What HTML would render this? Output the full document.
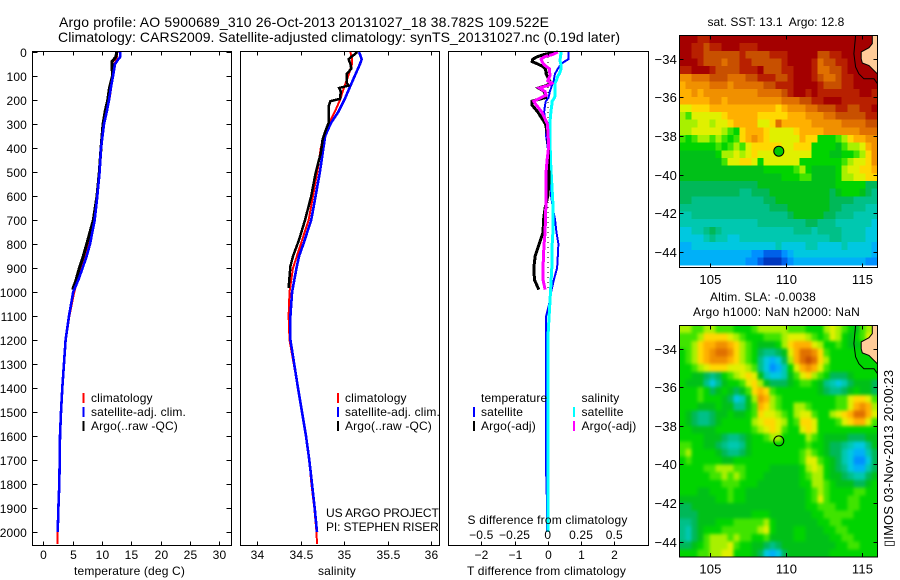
<!DOCTYPE html>
<html>
<head>
<meta charset="utf-8">
<title>Argo profile</title>
<style>
html,body{margin:0;padding:0;background:#fff;}
svg{display:block;}
text{font-family:"Liberation Sans",sans-serif;font-size:12px;fill:#000;letter-spacing:.15px;white-space:pre;}
.t14{font-size:14px;letter-spacing:0;}
</style>
</head>
<body>
<svg id="fig" xmlns="http://www.w3.org/2000/svg" width="900" height="580" viewBox="0 0 900 580">
<defs>
<filter id="smooth" x="-5%" y="-5%" width="110%" height="110%" color-interpolation-filters="sRGB">
<feGaussianBlur stdDeviation="1.7"/>
<feComponentTransfer><feFuncA type="linear" slope="50"/></feComponentTransfer>
</filter>
<clipPath id="sla-clip"><rect x="679.5" y="325.5" width="198" height="231.5"/></clipPath>
</defs>
<rect x="0" y="0" width="900" height="580" fill="#fff"/>
<text class="t14" x="59" y="27" textLength="490">Argo profile: AO 5900689_310 26-Oct-2013 20131027_18 38.782S 109.522E</text>
<text class="t14" x="58" y="42" textLength="562">Climatology: CARS2009. Satellite-adjusted climatology: synTS_20131027.nc (0.19d later)</text>
<g id="plots"></g>

<g>
<rect x="82.5" y="393" width="2" height="10" fill="#f00"/>
<rect x="82.5" y="407" width="2" height="10" fill="#00f"/>
<rect x="82.5" y="421" width="2" height="10" fill="#000"/>
<text x="91" y="402">climatology</text>
<text x="91" y="416">satellite-adj. clim.</text>
<text x="91" y="430">Argo(..raw -QC)</text>
</g>
<g>
<rect x="337" y="393" width="2" height="10" fill="#f00"/>
<rect x="337" y="407" width="2" height="10" fill="#00f"/>
<rect x="337" y="421" width="2" height="10" fill="#000"/>
<text x="345" y="402">climatology</text>
<text x="345" y="416">satellite-adj. clim.</text>
<text x="345" y="430">Argo(..raw -QC)</text>
<text x="326" y="517" textLength="113">US ARGO PROJECT</text>
<text x="326" y="531" textLength="113">PI: STEPHEN RISER</text>
</g>
<g>
<text x="481" y="402">temperature</text>
<text x="581.5" y="402">salinity</text>
<rect x="473" y="407" width="2" height="10" fill="#00f"/>
<rect x="473" y="421" width="2" height="10" fill="#000"/>
<rect x="573" y="407" width="2" height="10" fill="#0ff"/>
<rect x="573" y="421" width="2" height="10" fill="#f0f"/>
<text x="481" y="416">satellite</text>
<text x="481" y="430">Argo(-adj)</text>
<text x="581.5" y="416">satellite</text>
<text x="581.5" y="430">Argo(-adj)</text>
<text x="467.5" y="524" textLength="160">S difference from climatology</text>
</g>

<text x="74" y="575" textLength="111">temperature (deg C)</text>
<text x="318" y="575">salinity</text>
<text x="467" y="575" textLength="159">T difference from climatology</text>

<text x="707.5" y="26" textLength="137">sat. SST: 13.1  Argo: 12.8</text>
<text x="710" y="301" textLength="106">Altim. SLA: -0.0038</text>
<text x="693" y="316" textLength="167">Argo h1000: NaN h2000: NaN</text>
<text transform="translate(893,547) rotate(-90)" x="0" y="0" style="font-size:13px">▯IMOS 03-Nov-2013 20:00:23</text>
</svg>

<script>
// ---------- profile data: depth (m) and values ----------
const depthTicks = [0,100,200,300,400,500,600,700,800,900,1000,1100,1200,1300,1400,1500,1600,1700,1800,1900,2000];
const tempTicks = [0,5,10,15,20,25,30];
const salTicks = [34,34.5,35,35.5,36];
const salTickLabels = ['34','34.5','35','35.5','36'];
const tDiffTicks = [-2,-1,0,1,2];
const tDiffTickLabels = ['−2','−1','0','1','2'];
const sDiffTicks = [-0.5,-0.25,0,0.25,0.5];
const sDiffTickLabels = ['−0.5','−0.25','0','0.25','0.5'];

const tempClimDepth = [0,30,50,100,200,250,300,400,500,600,700,800,900,1000,1100,1200,1400,1500,1600,1700,1800,1900,2000,2050];
const tempClim = [12.62,12.5,12.11,11.88,11.26,10.8,10.35,9.78,9.55,9.21,8.64,7.68,6.43,5.29,4.45,3.85,3.24,3.02,2.85,2.8,2.73,2.57,2.45,2.45];
const tempSatDepth = [0,20,30,50,100,150,200,250,300,400,500,600,700,800,850,900,950,1000,1100,1200,1400,1500,1600,1700,1800,1900,2000];
const tempSat = [13.07,13.13,12.8,12.22,11.88,11.5,11.2,10.8,10.35,9.83,9.6,9.2,8.76,7.96,7.4,6.7,5.97,5.1,4.38,3.8,3.24,3.02,2.85,2.8,2.73,2.57,2.45];
const tempArgoDepth = [0,20,40,100,150,200,250,300,400,500,600,700,800,850,900,950,990];
const tempArgo = [12.5,12.39,11.71,11.77,11.26,10.97,10.52,10.18,9.84,9.55,9.15,8.53,7.39,6.82,6.14,5.57,5.0];

const salClimDepth = [0,30,50,100,150,200,250,300,350,400,500,600,700,800,900,1000,1100,1200,1400,1500,1600,1700,1800,1900,2000,2050];
const salClim = [35.07,35.09,35.09,35.045,34.995,34.95,34.89,34.82,34.76,34.73,34.69,34.64,34.59,34.5,34.41,34.37,34.36,34.37,34.468,34.514,34.56,34.598,34.622,34.655,34.68,34.686];
const salSatDepth = [0,20,30,50,100,150,200,250,300,350,400,500,600,700,800,850,900,1000,1100,1200,1400,1500,1600,1700,1800,1900,2000];
const salSat = [35.17,35.19,35.2,35.18,35.12,35.06,35.0,34.93,34.84,34.78,34.76,34.72,34.67,34.62,34.53,34.48,34.45,34.4,34.38,34.38,34.468,34.514,34.56,34.598,34.629,34.66,34.686];
const salArgoDepth = [0,10,20,30,50,70,90,120,130,140,150,165,195,205,226,296,323,365,421,504,601,699,782,851,893,983];
const salArgo = [35.15,35.12,35.08,35.05,35.07,35.08,35.03,35.03,35.03,35.05,34.94,34.96,34.95,34.84,34.82,34.82,34.79,34.75,34.73,34.67,34.62,34.55,34.48,34.41,34.38,34.36];

const diffDepth = [0,10,20,30,40,50,60,70,90,100,120,130,140,150,165,180,190,205,220,250,300,350,400,450,500,550,600,650,700,750,800,850,900,950,990];
const tDiffArgo = [0.30,-0.10,-0.32,-0.45,-0.47,-0.30,-0.15,-0.07,-0.05,-0.02,0.05,0.10,-0.05,-0.28,-0.10,-0.08,-0.07,-0.48,-0.48,-0.30,-0.07,0,0.02,0.02,0.03,0.03,0,-0.08,-0.13,-0.14,-0.26,-0.38,-0.42,-0.40,-0.27];
const sDiffArgo = [0.075,0.038,-0.025,-0.05,-0.043,-0.033,-0.013,0.013,0.015,0.015,0,0.03,0,-0.063,-0.02,-0.013,-0.05,-0.105,-0.088,-0.045,-0.003,0.003,0.005,-0.005,-0.013,-0.015,-0.015,-0.015,-0.018,-0.02,-0.028,-0.033,-0.035,-0.035,-0.02];
const satDiffDepth = [0,10,20,30,40,50,60,70,90,100,120,130,140,150,165,180,190,205,220,250,300,350,400,450,500,550,600,650,700,750,800,850,900,950,1000,1050,1100,1200,1400,1700,1850,2000];
const tDiffSat = [0.63,0.63,0.63,0.62,0.50,0.40,0.35,0.30,0.22,0.20,0.18,0.15,0.12,0.10,0.06,0.04,0.02,-0.06,-0.08,-0.11,-0.06,-0.05,0,0.04,0.06,0.08,0.10,0.15,0.22,0.26,0.32,0.30,0.28,0.18,0.10,0.04,-0.05,-0.05,-0.06,-0.06,-0.03,-0.03];
const sDiffSat = [0.1,0.098,0.095,0.093,0.093,0.098,0.1,0.1,0.088,0.075,0.063,0.055,0.055,0.055,0.055,0.055,0.05,0.033,0.03,0.023,0.015,0.015,0.018,0.02,0.025,0.03,0.035,0.04,0.04,0.038,0.033,0.03,0.03,0.025,0.02,0.015,0.01,0,0.003,0,0,0.003];
const zeroLineDepth = [0,1000];
const zeroLineValue = [0,0];

// ---------- map data: colour level per cell, north to south ----------
const lonTicks = [105,110,115];
const latTicks = [-34,-36,-38,-40,-42,-44];
const levelColors = ['#0038c0','#0060e8','#0090ff','#00b0f8','#00c8e0','#00c8b0','#00c088','#00b858','#00c018','#00d400','#40e400','#a8f000','#e0f000','#ffd800','#ffb000','#f09000','#e07000','#c85000','#b82000','#a40000'];
const sstLevels = [
[19,19,19,18,18,19,19,19,19,19,19,19,19,19,19,19,19,19,19,19,19,19,19,19,19,19,19,19,19,19,19,19,19],
[19,19,18,18,17,18,18,19,19,19,18,18,18,19,19,19,19,19,19,19,19,19,19,19,19,19,19,19,19,19,19,19,19],
[19,19,18,18,17,17,17,17,17,17,18,17,17,17,17,18,18,18,19,19,19,19,19,17,17,18,18,19,19,19,19,19,19],
[19,19,19,18,17,17,17,16,17,17,18,18,17,17,17,17,17,18,19,19,19,19,18,16,17,17,18,18,19,19,19,19,19],
[18,18,19,19,19,18,17,17,17,17,18,18,18,19,17,17,17,18,18,19,19,19,18,16,16,17,17,18,19,19,19,19,19],
[15,15,16,16,16,17,17,17,16,16,16,17,17,18,18,18,17,17,18,19,19,19,18,17,16,16,17,18,18,19,19,19,19],
[14,15,15,15,15,16,16,16,15,16,16,16,16,16,17,17,18,18,18,19,19,19,19,18,17,17,17,18,18,19,19,19,19],
[14,14,15,14,15,15,15,15,15,15,15,15,15,16,16,16,16,17,18,19,19,18,19,18,18,18,18,18,18,18,19,19,18],
[14,14,14,14,14,15,15,14,15,15,15,15,15,15,15,15,15,16,16,16,17,17,18,18,19,19,19,18,18,18,18,18,18],
[12,12,13,13,13,14,14,14,14,14,14,14,14,14,14,14,13,14,15,15,15,16,16,17,17,17,18,18,17,17,18,18,19],
[11,10,12,12,12,12,12,13,14,14,14,14,14,13,13,13,13,13,14,14,14,15,15,15,16,16,17,17,17,17,17,18,18],
[11,11,11,12,12,11,12,12,13,14,14,14,14,12,12,13,16,14,14,14,14,14,15,15,15,15,15,16,16,16,16,17,17],
[11,11,12,12,12,12,12,11,10,9,13,14,14,14,13,12,12,12,12,13,14,14,14,14,15,15,15,15,15,15,16,16,16],
[10,9,10,11,11,10,11,10,9,10,13,14,15,14,13,12,12,12,12,12,14,13,13,9,9,9,10,11,13,14,14,15,15],
[9,9,9,9,9,9,10,9,10,11,10,12,13,13,13,13,13,12,12,13,13,13,9,9,9,9,8,10,11,11,12,14,15],
[8,8,8,8,8,8,9,11,11,12,11,12,13,12,12,12,12,12,12,12,12,12,9,9,9,8,8,9,9,10,11,13,15],
[8,8,8,8,8,8,8,10,12,12,13,13,12,9,12,12,12,12,12,12,9,9,9,9,9,9,9,10,11,12,12,13,15],
[8,8,8,8,8,8,8,8,8,8,8,8,8,8,9,9,9,9,9,10,11,9,8,8,8,8,9,11,12,12,13,13,14],
[8,8,8,8,8,8,8,8,8,8,8,8,8,8,8,8,8,9,9,9,10,10,8,8,8,8,9,11,11,12,12,13,13],
[7,7,7,7,7,7,7,7,7,7,7,7,7,8,8,8,8,8,8,8,8,8,8,8,8,8,9,9,9,9,9,7,7],
[7,7,7,7,7,7,7,7,7,7,6,6,7,7,7,8,8,8,8,8,8,8,8,8,8,7,8,9,9,9,8,7,6],
[7,7,6,6,6,6,6,6,6,6,6,6,6,6,7,7,8,8,8,8,8,8,8,8,8,7,7,7,7,6,6,6,6],
[6,6,6,6,6,6,6,6,6,6,6,6,6,6,6,7,7,7,8,8,8,8,8,8,8,7,7,6,6,6,6,5,5],
[5,5,6,6,6,6,6,6,6,6,6,6,6,6,6,6,6,6,7,8,8,8,8,8,7,7,6,6,6,5,5,5,5],
[5,5,5,5,5,5,5,5,5,5,5,5,5,6,6,6,6,6,6,6,6,7,7,6,6,6,5,5,5,5,5,5,4],
[4,4,5,5,6,7,6,5,5,5,5,5,5,5,5,5,5,5,5,6,6,6,5,6,6,6,6,5,5,5,5,4,4],
[4,4,4,4,5,6,5,5,4,4,5,5,5,5,5,5,5,5,5,5,5,5,5,5,5,6,6,5,5,5,5,4,4],
[3,3,4,4,4,4,4,4,4,4,4,4,4,4,4,4,5,4,4,4,4,5,5,4,4,4,4,5,4,4,4,4,3],
[3,3,3,3,3,3,3,3,3,3,3,3,2,2,1,1,1,2,3,4,4,4,4,4,4,4,4,4,4,4,4,4,3],
[3,3,3,3,3,3,3,3,3,3,3,2,2,1,0,0,0,1,2,3,3,3,3,3,3,3,3,3,3,3,3,2,2]
];
const slaLevels = [
[11,11,10,10,11,11,10,10,10,9,9,9,10,11,11,11,11,11,10,10,10,9,9,9,11,12,11,10,9,8,10,11,11],
[10,10,10,11,13,13,13,13,12,11,10,9,9,9,10,10,10,11,12,12,12,11,10,9,10,12,11,9,8,9,10,12,11],
[10,10,11,13,14,14,15,15,14,13,11,10,9,8,8,8,9,11,13,14,14,14,12,11,9,9,10,9,8,8,9,11,11],
[9,10,11,13,14,15,16,16,15,13,11,10,9,7,6,6,7,8,12,14,16,16,15,13,10,9,9,9,9,9,9,9,9],
[9,10,11,13,14,15,15,15,14,13,11,10,9,6,4,3,4,7,11,14,16,17,16,13,11,9,9,9,9,9,9,9,9],
[9,9,10,11,12,13,13,13,12,12,12,11,10,6,4,2,3,5,9,12,14,15,14,12,10,9,9,9,9,9,9,9,9],
[9,9,8,8,7,6,7,9,10,11,12,13,12,8,5,4,4,5,8,10,12,13,11,10,9,7,7,7,8,9,9,9,9],
[9,8,8,8,6,4,6,8,9,9,10,12,13,11,8,7,7,7,8,9,10,10,9,8,6,5,4,5,7,8,8,8,7],
[9,9,9,10,9,7,8,9,8,7,8,10,13,14,13,10,9,9,9,9,9,9,9,8,7,6,6,7,8,9,8,8,7],
[9,9,9,10,9,9,9,8,7,4,5,8,11,15,14,11,10,9,9,9,9,9,9,9,9,9,10,10,12,13,13,12,10],
[9,9,9,8,8,8,9,8,8,6,6,8,10,14,13,11,10,9,9,11,11,10,9,9,9,9,10,10,12,14,15,14,11],
[9,8,7,6,6,7,8,8,9,8,8,9,10,13,12,12,11,10,9,11,12,12,10,9,9,11,12,13,14,16,16,14,12],
[9,8,7,6,6,7,8,9,9,9,9,9,11,12,13,13,12,11,9,10,13,13,12,9,9,9,10,12,13,14,14,12,10],
[9,9,8,8,8,8,9,9,9,9,9,9,10,11,12,13,12,10,9,9,12,13,12,9,9,9,9,9,9,9,9,9,9],
[9,9,9,9,8,8,8,7,6,6,7,8,9,9,10,11,11,9,9,9,9,11,10,9,8,8,8,8,7,7,7,8,8],
[10,10,9,9,8,8,7,6,5,5,6,8,9,9,9,9,9,9,9,9,9,10,9,9,8,7,7,6,5,4,4,6,8],
[10,11,9,9,9,9,8,7,6,6,7,8,9,9,9,9,9,9,9,9,10,11,10,9,8,7,7,5,4,3,3,5,7],
[9,10,9,9,9,9,9,8,8,9,9,9,9,9,9,9,9,9,9,9,10,12,12,10,9,8,7,5,4,2,2,4,7],
[9,9,9,9,10,10,11,11,11,10,10,9,9,9,9,8,8,8,8,8,9,11,12,11,9,8,7,6,4,3,3,5,7],
[9,9,9,9,9,10,10,11,10,11,10,9,9,9,8,8,8,8,8,8,9,10,11,11,9,8,8,7,6,5,5,7,8],
[9,9,9,9,9,9,9,10,10,10,9,9,9,8,8,8,8,8,8,8,9,9,11,11,10,9,8,8,8,7,7,8,9],
[9,9,9,8,8,9,9,9,10,9,9,8,8,8,8,8,8,8,8,8,8,9,10,11,10,9,9,9,9,10,10,9,9],
[8,8,8,8,8,8,9,9,10,9,9,8,8,8,8,8,8,8,8,8,8,9,10,12,10,9,9,9,10,10,9,9,9],
[7,7,8,8,8,8,8,8,8,8,8,8,8,8,8,8,8,8,8,8,8,9,9,10,10,10,9,9,10,10,9,9,9],
[7,7,7,8,8,8,8,8,8,8,8,8,9,9,9,8,8,8,8,8,8,8,9,9,10,10,10,10,10,9,9,9,9],
[6,6,7,8,8,8,9,9,9,10,10,10,10,10,11,9,8,8,8,8,8,8,8,9,9,10,10,9,9,9,9,9,9],
[6,5,7,8,9,9,9,10,10,10,10,10,10,11,12,9,8,8,8,9,9,8,8,8,9,9,10,10,9,9,9,9,9],
[6,5,7,8,10,11,11,11,10,11,10,10,9,9,10,8,8,8,8,9,9,8,8,8,8,9,9,10,10,9,9,9,9],
[7,7,8,9,10,11,11,11,12,10,9,9,8,8,7,6,7,8,8,8,8,8,8,8,8,8,9,9,10,10,9,9,9],
[9,9,9,10,10,11,11,12,12,9,9,9,8,7,4,3,4,7,8,8,8,8,8,8,8,9,9,9,9,9,9,9,9]
];
const landLon = [115.66,115.66,115.44,114.93,114.93,115,115.44,115.99,116,116];
const landLat = [-32.8,-33.22,-33.43,-33.65,-34,-34.22,-34.35,-34.78,-34.78,-32.8];
const shelfLon = [114.56,114.45,114.56,114.78,115.11,115.77,116];
const shelfLat = [-32.8,-33.74,-34.43,-34.78,-35.04,-35.04,-35.3];
const argoLon = [109.522];
const argoLat = [-38.782];

// ---------- helpers ----------
const NS = 'http://www.w3.org/2000/svg';
const plots = document.getElementById('plots');
function linear(d0, d1, r0, r1) { return v => r0 + (v - d0) * (r1 - r0) / (d1 - d0); }
function node(parent, tag, attrs, name) {
  const el = document.createElementNS(NS, tag);
  for (const k in attrs) el.setAttribute(k, attrs[k]);
  
  
  parent.appendChild(el);
  return el;
}
function label(parent, x, y, str, anchor, name) {
  const el = node(parent, 'text', {x: x, y: y, 'text-anchor': anchor}, name);
  el.textContent = str;
  return el;
}
function tick(parent, x1, y1, x2, y2, name) {
  node(parent, 'line', {x1: x1, y1: y1, x2: x2, y2: y2, stroke: '#000', 'stroke-width': 1, 'shape-rendering': 'crispEdges'}, name);
}
const yDepth = linear(0, 2000, 52, 532);
function profile(parent, xs, depths, values, color, width, name, dash) {
  const pts = values.map((v, i) => xs(v).toFixed(1) + ',' + yDepth(depths[i]).toFixed(1)).join(' ');
  const attrs = {points: pts, fill: 'none', stroke: color, 'stroke-width': width, 'shape-rendering': 'crispEdges'};
  if (dash) attrs['stroke-dasharray'] = dash;
  node(parent, 'polyline', attrs, name);
}
function panel(name, left, right, xs, ticks, labels, withY) {
  const g = node(plots, 'g', {}, name);
  const top = 51.5, bottom = 545.5;
  node(g, 'rect', {x: left, y: top, width: right - left, height: bottom - top, fill: '#fff'}, name + '-background');
  const marks = node(g, 'g', {}, name + '-series');
  ticks.forEach((t, i) => {
    const x = Math.round(xs(t)) + 0.5;
    tick(g, x, top, x, top + 4, 'x-tick-top');
    tick(g, x, bottom, x, bottom - 4, 'x-tick-bottom');
    label(g, x, 559, labels[i], 'middle', 'x-tick-label');
  });
  if (withY) {
    depthTicks.forEach(d => {
      const y = Math.round(yDepth(d)) + 0.5;
      tick(g, left, y, left + 5, y, 'y-tick-left');
      tick(g, right, y, right - 5, y, 'y-tick-right');
      label(g, 27, y + 4.5, String(d), 'end', 'y-tick-label');
    });
  }
  node(g, 'rect', {x: left, y: top, width: right - left, height: bottom - top, fill: 'none', stroke: '#000', 'stroke-width': 1, 'shape-rendering': 'crispEdges'}, name + '-frame');
  return {g: g, marks: marks};
}

// ---------- profile panels ----------
const xTemp = linear(0, 30, 43.3, 219.3);
const p1 = panel('temperature-panel', 32.5, 231.5, xTemp, tempTicks, tempTicks.map(String), true);
profile(p1.marks, xTemp, tempClimDepth, tempClim, '#f00', 2, 'temperature-climatology-line');
profile(p1.marks, xTemp, tempArgoDepth, tempArgo, '#000', 3, 'temperature-argo-line');
profile(p1.marks, xTemp, tempSatDepth, tempSat, '#00f', 2.6, 'temperature-satellite-line');

const xSal = linear(34, 36, 257.3, 431.3);
const p2 = panel('salinity-panel', 240.5, 439.5, xSal, salTicks, salTickLabels, false);
profile(p2.marks, xSal, salClimDepth, salClim, '#f00', 2, 'salinity-climatology-line');
profile(p2.marks, xSal, salSatDepth, salSat, '#00f', 2.6, 'salinity-satellite-line');
profile(p2.marks, xSal, salArgoDepth, salArgo, '#000', 2.5, 'salinity-argo-line');

const xT = linear(-2, 2, 481.3, 614.3);
const xS = linear(-0.5, 0.5, 481.3, 614.3);
const p3 = panel('difference-panel', 448.5, 648.5, xT, tDiffTicks, tDiffTickLabels, false);
sDiffTicks.forEach((t, i) => {
  label(p3.g, xS(t), 539, sDiffTickLabels[i], 'middle', 's-diff-tick-label');
});
profile(p3.marks, xT, zeroLineDepth, zeroLineValue, '#000', 1, 'zero-line', '1 4');
profile(p3.marks, xT, satDiffDepth, tDiffSat, '#00f', 2, 'temperature-satellite-difference-line');
profile(p3.marks, xS, satDiffDepth, sDiffSat, '#0ff', 3, 'salinity-satellite-difference-line');
profile(p3.marks, xT, diffDepth, tDiffArgo, '#000', 3, 'temperature-argo-difference-line');
profile(p3.marks, xS, diffDepth, sDiffArgo, '#f0f', 3, 'salinity-argo-difference-line');

// ---------- maps ----------
function mapPanel(name, levels, top, bottom, markerFill, smooth) {
  const g = node(plots, 'g', {}, name);
  const left = 679.5, right = 877.5;
  const xLon = linear(103, 116, left, right);
  const yLat = linear(-32.8, -44.8, top, bottom);
  const clip = node(g, 'g', smooth ? {'clip-path': 'url(#sla-clip)'} : {}, name + '-cell-clip');
  const cells = node(clip, 'g', smooth ? {'shape-rendering': 'crispEdges', filter: 'url(#smooth)'} : {'shape-rendering': 'crispEdges'}, name + '-cells');
  const dLon = 13 / 33, dLat = smooth ? 0.4 : 0.396;
  levels.forEach((row, r) => {
    row.forEach((lev, c) => {
      const x0 = xLon(103 + c * dLon), x1 = xLon(103 + (c + 1) * dLon);
      const y0 = yLat(-32.8 - r * dLat), y1 = yLat(-32.8 - (r + 1) * dLat);
      node(cells, 'rect', {x: x0.toFixed(2), y: y0.toFixed(2), width: (x1 - x0 + 0.5).toFixed(2), height: (y1 - y0 + 0.5).toFixed(2), fill: levelColors[lev]}, 'map-cell');
    });
  });
  const landPts = landLon.map((v, i) => xLon(v).toFixed(1) + ',' + yLat(landLat[i]).toFixed(1)).join(' ');
  node(g, 'polygon', {points: landPts, fill: '#ffcc99', stroke: '#000', 'stroke-width': 1}, 'land');
  const shelfPts = shelfLon.map((v, i) => xLon(v).toFixed(1) + ',' + yLat(shelfLat[i]).toFixed(1)).join(' ');
  node(g, 'polyline', {points: shelfPts, fill: 'none', stroke: '#000', 'stroke-width': 1}, 'coast-outline');
  node(g, 'circle', {cx: xLon(argoLon[0]).toFixed(1), cy: yLat(argoLat[0]).toFixed(1), r: 5, fill: markerFill, stroke: '#000', 'stroke-width': 1}, 'argo-location-marker');
  lonTicks.forEach(t => {
    const x = Math.round(xLon(t)) + 0.5;
    tick(g, x, top, x, top + 4, 'lon-tick-top');
    tick(g, x, bottom, x, bottom - 4, 'lon-tick-bottom');
    label(g, x, bottom + 16.5, String(t), 'middle', 'lon-tick-label').style.fontSize = '13px';
  });
  latTicks.forEach(t => {
    const y = Math.round(yLat(t)) + 0.5;
    tick(g, left, y, left + 4, y, 'lat-tick-left');
    tick(g, right, y, right - 4, y, 'lat-tick-right');
    label(g, 677, y + 4.5, '−' + Math.abs(t), 'end', 'lat-tick-label').style.fontSize = '13px';
  });
  node(g, 'rect', {x: left, y: top, width: right - left, height: bottom - top, fill: 'none', stroke: '#000', 'stroke-width': 1, 'shape-rendering': 'crispEdges'}, name + '-frame');
}
mapPanel('sst-map', sstLevels, 35.5, 267.5, '#00c800', false);
mapPanel('sla-map', slaLevels, 325.5, 557, 'none', true);
</script>
</body>
</html>
